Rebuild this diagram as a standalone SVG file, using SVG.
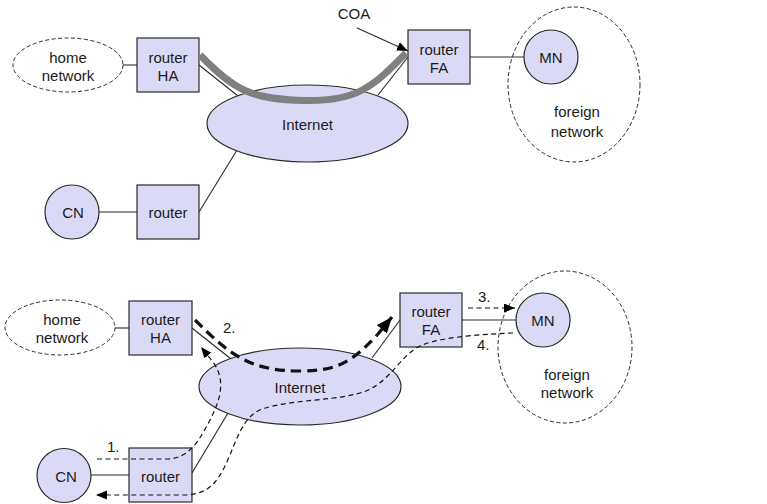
<svg xmlns="http://www.w3.org/2000/svg" width="767" height="504" viewBox="0 0 767 504">
  <style>
    .box { fill: #dadaf6; stroke: #2a2a2a; stroke-width: 1.2; }
    .cloud { fill: none; stroke: #2a2a2a; stroke-width: 1; stroke-dasharray: 4 2.5; }
    .net { fill: #dadaf6; stroke: #2a2a2a; stroke-width: 1.2; }
    .link { fill: none; stroke: #2a2a2a; stroke-width: 1.1; }
    .tunnel { fill: none; stroke: #808080; stroke-width: 7; stroke-linecap: butt; }
    .flow { fill: none; stroke: #111; stroke-width: 1.2; stroke-dasharray: 5 3.5; }
    .flow-bold { fill: none; stroke: #111; stroke-width: 3.2; stroke-dasharray: 10 6; }
    text { font-family: "Liberation Sans", Arial, sans-serif; font-size: 15px; fill: #1a1a1a; text-anchor: middle; }
    .num { text-anchor: start; }
  </style>
  <defs>
    <marker id="head" markerUnits="userSpaceOnUse" markerWidth="12" markerHeight="10" refX="11" refY="4.5" orient="auto">
      <path d="M0,0 L11,4.5 L0,9 z" fill="#000" stroke="none"/>
    </marker>
    <marker id="head-big" markerUnits="userSpaceOnUse" markerWidth="18" markerHeight="14" refX="16" refY="6.5" orient="auto">
      <path d="M0,0 L16,6.5 L0,13 z" fill="#000" stroke="none"/>
    </marker>
  </defs>

  <rect width="767" height="504" fill="#fff"/>

  <!-- plain links between the elements -->
  <g id="connectors">
    <!-- upper scenario -->
    <line class="link" x1="123" y1="65" x2="137" y2="65"/>
    <line class="link" x1="199" y1="65" x2="238" y2="96"/>
    <line class="link" x1="378" y1="95" x2="408" y2="57"/>
    <line class="link" x1="470" y1="57" x2="524" y2="57"/>
    <line class="link" x1="99" y1="212" x2="137" y2="212"/>
    <line class="link" x1="199" y1="212" x2="237" y2="150"/>
    <!-- lower scenario -->
    <line class="link" x1="115" y1="328" x2="129" y2="328"/>
    <line class="link" x1="192" y1="328" x2="231" y2="359"/>
    <line class="link" x1="372" y1="358" x2="400" y2="320"/>
    <line class="link" x1="462" y1="320" x2="516" y2="320"/>
    <line class="link" x1="91" y1="475" x2="129" y2="475"/>
    <line class="link" x1="192" y1="473" x2="228" y2="413"/>
  </g>

  <!-- upper scenario nodes -->
  <g id="home-network-1">
    <ellipse class="cloud" cx="68" cy="65" rx="55" ry="27"/>
    <text x="68" y="63">home</text>
    <text x="68" y="81">network</text>
  </g>
  <g id="router-ha-1">
    <rect class="box" x="137" y="38" width="62" height="54"/>
    <text x="168" y="63">router</text>
    <text x="168" y="81">HA</text>
  </g>
  <g id="internet-1">
    <ellipse class="net" cx="307.5" cy="123.5" rx="100.5" ry="38.5"/>
    <text x="307.5" y="130">Internet</text>
  </g>
  <g id="router-fa-1">
    <rect class="box" x="408" y="30" width="62" height="54"/>
    <text x="439" y="55">router</text>
    <text x="439" y="73">FA</text>
  </g>
  <g id="foreign-network-1">
    <ellipse class="cloud" cx="574" cy="84.5" rx="66" ry="77.5"/>
    <text x="577" y="117">foreign</text>
    <text x="577" y="137">network</text>
  </g>
  <g id="mn-1">
    <circle class="box" cx="551" cy="57" r="27"/>
    <text x="551" y="63">MN</text>
  </g>
  <g id="cn-1">
    <circle class="box" cx="72" cy="212" r="27"/>
    <text x="73" y="218">CN</text>
  </g>
  <g id="router-cn-1">
    <rect class="box" x="137" y="185" width="62" height="54"/>
    <text x="168" y="218">router</text>
  </g>

  <!-- lower scenario nodes -->
  <g id="home-network-2">
    <ellipse class="cloud" cx="60" cy="327.5" rx="55" ry="27.5"/>
    <text x="62" y="325">home</text>
    <text x="62" y="343">network</text>
  </g>
  <g id="router-ha-2">
    <rect class="box" x="129" y="301" width="63" height="54"/>
    <text x="160.5" y="325">router</text>
    <text x="160.5" y="343">HA</text>
  </g>
  <g id="internet-2">
    <ellipse class="net" cx="300" cy="386.5" rx="101" ry="38.5"/>
    <text x="300" y="393">Internet</text>
  </g>
  <g id="router-fa-2">
    <rect class="box" x="400" y="293" width="62" height="54"/>
    <text x="431" y="317">router</text>
    <text x="431" y="335">FA</text>
  </g>
  <g id="foreign-network-2">
    <ellipse class="cloud" cx="565" cy="347" rx="67" ry="76"/>
    <text x="567" y="380">foreign</text>
    <text x="567" y="398">network</text>
  </g>
  <g id="mn-2">
    <circle class="box" cx="543" cy="320" r="27"/>
    <text x="543" y="326">MN</text>
  </g>
  <g id="cn-2">
    <circle class="box" cx="64" cy="475.5" r="27"/>
    <text x="66" y="482">CN</text>
  </g>
  <g id="router-cn-2">
    <rect class="box" x="129" y="448" width="63" height="54"/>
    <text x="160.5" y="482">router</text>
  </g>

  <!-- tunnel, care-of address and packet flows -->
  <g id="flows">
    <path class="tunnel" d="M200,55 C236,92 252,99 305,100.5 C356,101.5 372,88 406,53"/>
    <line class="link" x1="357" y1="28" x2="408" y2="51" marker-end="url(#head)"/>
    <text x="354" y="19">COA</text>

    <path class="flow" d="M97,459 L168,459 C184,458 194,449 204,431 C217,408 229,384 213,362 L201,347" marker-end="url(#head)"/>
    <text class="num" x="107" y="452">1.</text>

    <path class="flow-bold" d="M195,320 C230,355 250,371 300,371 C338,371 352,362 378,334 L392,317" marker-end="url(#head-big)"/>
    <text class="num" x="223" y="333">2.</text>

    <path class="flow" d="M468,308 L515,308" marker-end="url(#head)"/>
    <text class="num" x="478" y="302">3.</text>

    <path class="flow" d="M513,333 C490,334 445,336 422,345 C401,354 392,380 366,391 C340,401 292,399 262,409 C242,417 237,440 226,464 C216,485 206,494 186,495 L96,495" marker-end="url(#head)"/>
    <text class="num" x="477" y="350">4.</text>
  </g>
</svg>
